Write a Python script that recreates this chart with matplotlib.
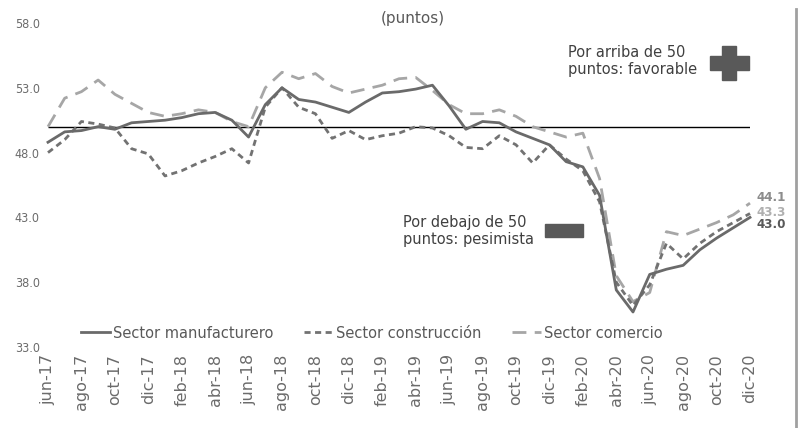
import matplotlib.pyplot as plt
from matplotlib.lines import Line2D

# monthly axis jun-17 .. dic-20, labelled every second month
meses = ["ene", "feb", "mar", "abr", "may", "jun", "jul", "ago", "sep", "oct", "nov", "dic"]
fechas = []
for year in range(17, 21):
    for m in meses:
        fechas.append(f"{m}-{year}")
fechas = fechas[5:]  # starts at jun-17, 43 months

manufacturero = [48.8, 49.6, 49.7, 50.0, 49.8, 50.3, 50.4, 50.5, 50.7, 51.0,
                 51.1, 50.5, 49.2, 51.7, 53.0, 52.1, 51.9, 51.5, 51.1, 51.9,
                 52.6, 52.7, 52.9, 53.2, 51.6, 49.8, 50.4, 50.3, 49.6, 49.1,
                 48.6, 47.3, 46.9, 44.7, 37.4, 35.7, 38.6, 39.0, 39.3, 40.5,
                 41.4, 42.2, 43.0]
construccion = [48.0, 49.0, 50.4, 50.2, 49.9, 48.3, 47.9, 46.2, 46.6, 47.2,
                47.7, 48.3, 47.2, 51.5, 53.0, 51.5, 51.0, 49.1, 49.7, 49.0,
                49.3, 49.5, 50.0, 49.9, 49.3, 48.4, 48.3, 49.3, 48.6, 47.2,
                48.6, 47.5, 46.6, 44.2, 38.0, 36.2, 37.8, 41.0, 39.8, 41.0,
                41.9, 42.6, 43.3]
comercio = [50.0, 52.2, 52.7, 53.6, 52.5, 51.8, 51.1, 50.8, 51.0, 51.3,
            51.1, 50.4, 50.0, 53.0, 54.2, 53.7, 54.1, 53.1, 52.6, 52.9,
            53.2, 53.7, 53.8, 52.8, 51.7, 51.0, 51.0, 51.3, 50.8, 50.0,
            49.6, 49.2, 49.5, 46.0, 38.5, 36.5, 37.2, 41.9, 41.6, 42.1,
            42.6, 43.2, 44.1]

umbral = 50
yticks = [33, 38, 43, 48, 53, 58]

W, H = 798, 428
fig = plt.figure(figsize=(W / 100, H / 100), dpi=100)
fig.patch.set_facecolor("white")
ax = fig.add_axes([48 / W, 1 - 347 / H, (750 - 48) / W, (347 - 23) / H])

x = list(range(len(fechas)))

ax.hlines(umbral, 0, 42.5, color="black", lw=1.0, zorder=1)
ax.plot(x, comercio, color="#a6a6a6", lw=2.0, dashes=(5, 3), clip_on=False,
        label="Sector comercio", zorder=2)
ax.plot(x, construccion, color="#727272", lw=2.0, dashes=(2.2, 1.6), clip_on=False,
        label="Sector construcción", zorder=3)
ax.plot(x, manufacturero, color="#6a6a6a", lw=2.0, clip_on=False,
        label="Sector manufacturero", zorder=4)

ax.set_xlim(0, 42)
ax.set_ylim(33, 58)
ax.set_yticks(yticks)
ax.set_yticklabels([f"{v:.1f}" for v in yticks], color="#6b6b6b", fontsize=9,
                   fontstretch="condensed")
ax.set_xticks(x[::2])
ax.set_xticklabels(fechas[::2], rotation=90, color="#6b6b6b", fontsize=11.5)
ax.tick_params(axis="both", length=0)
ax.tick_params(axis="y", pad=6)
ax.tick_params(axis="x", pad=5)
for s in ax.spines.values():
    s.set_visible(False)

# end labels
ax.annotate(f"{comercio[-1]:.1f}", (42, comercio[-1]), xytext=(5, 4),
            textcoords="offset points", color="#8c8c8c", fontsize=9.5,
            fontweight="bold", fontstretch="condensed", va="center",
            annotation_clip=False)
ax.annotate(f"{construccion[-1]:.1f}", (42, construccion[-1]), xytext=(5, 1),
            textcoords="offset points", color="#b0b0b0", fontsize=9.5,
            fontweight="bold", fontstretch="condensed", va="center",
            annotation_clip=False)
ax.annotate(f"{manufacturero[-1]:.1f}", (42, manufacturero[-1]), xytext=(5, -5),
            textcoords="offset points", color="#595959", fontsize=9.5,
            fontweight="bold", fontstretch="condensed", va="center",
            annotation_clip=False)

# legend in the lower band of the plot
handles = [
    Line2D([], [], color="#6a6a6a", lw=2.0),
    Line2D([], [], color="#727272", lw=2.0, dashes=(2.2, 1.6)),
    Line2D([], [], color="#a6a6a6", lw=2.0, dashes=(5, 3)),
]
leg = fig.legend(handles, ["Sector manufacturero", "Sector construcción", "Sector comercio"],
                 loc="center", bbox_to_anchor=(372 / W, 1 - 333 / H), ncol=3,
                 frameon=False, fontsize=10.5, handlelength=2.0, handletextpad=0.2,
                 columnspacing=2.1, labelcolor="#595959")

fig.text(413 / W, 1 - 18 / H, "(puntos)", ha="center", va="center",
         fontsize=11, color="#595959")
fig.text(568 / W, 1 - 61 / H, "Por arriba de 50\npuntos: favorable", ha="left",
         va="center", fontsize=10.5, color="#404040", linespacing=1.2)
fig.text(403 / W, 1 - 231 / H, "Por debajo de 50\npuntos: pesimista", ha="left",
         va="center", fontsize=10.5, color="#404040", linespacing=1.2)

# plus and minus signs
fig.patches.append(plt.Rectangle((710 / W, 1 - 70 / H), 39 / W, 14 / H,
                                 transform=fig.transFigure, color="#595959"))
fig.patches.append(plt.Rectangle((722 / W, 1 - 80 / H), 14 / W, 34 / H,
                                 transform=fig.transFigure, color="#595959"))
fig.patches.append(plt.Rectangle((545 / W, 1 - 237 / H), 38 / W, 13 / H,
                                 transform=fig.transFigure, color="#595959"))

# thin frame edge on the right
fig.add_artist(Line2D([796 / W, 796 / W], [0, 0.98], transform=fig.transFigure,
                      color="#a0a0a0", lw=2))

fig.savefig("out.png", dpi=100, facecolor="white")
